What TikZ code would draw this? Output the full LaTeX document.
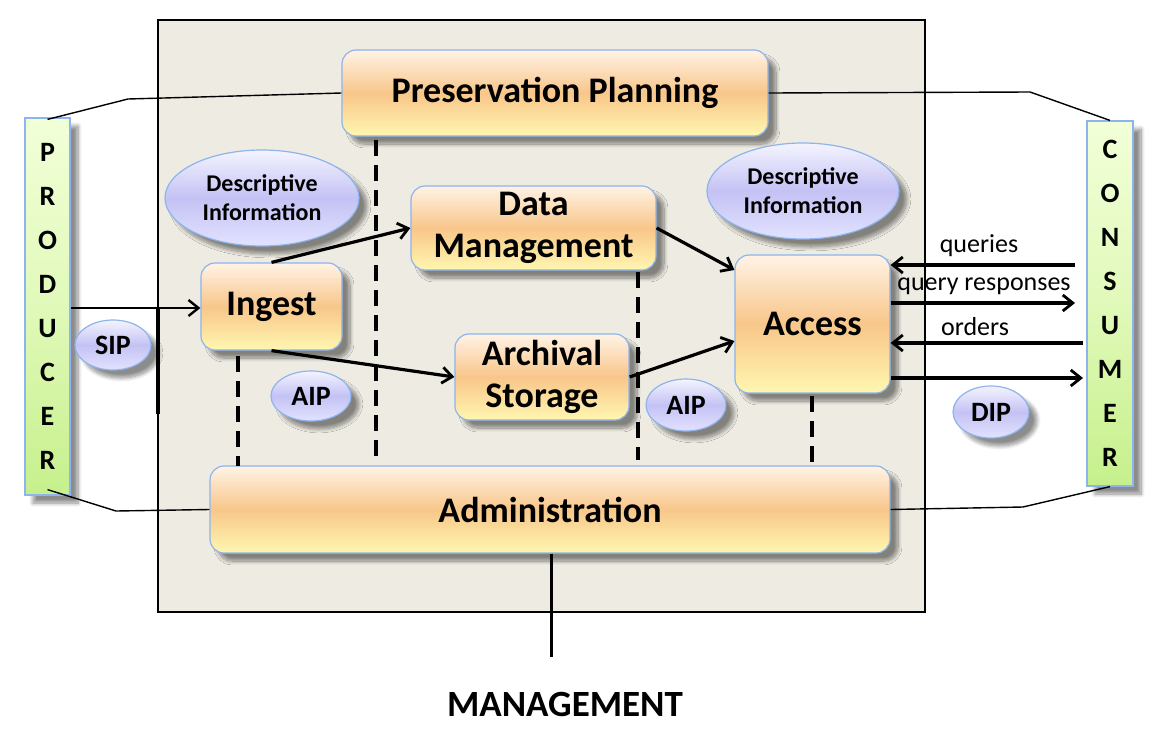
\documentclass[tikz,border=0pt]{standalone}
\usepackage{fontspec}
\setmainfont{Carlito}
\usetikzlibrary{shadows.blur,arrows.meta,shapes.geometric}
\definecolor{beige}{HTML}{EEEBE3}
\definecolor{orA}{HTML}{FFF3E6}
\definecolor{orB}{HTML}{F8C68A}
\definecolor{orC}{HTML}{FFF7B0}
\definecolor{bordblue}{HTML}{8DB4EC}
\definecolor{elA}{HTML}{F4F4FF}
\definecolor{elB}{HTML}{C4C2F4}
\definecolor{elC}{HTML}{E2E2FF}
\definecolor{grA}{HTML}{F2FFD8}
\definecolor{grB}{HTML}{C6F08C}
\tikzset{
  x=0.5pt,y=-0.5pt,
  shad/.style={blur shadow={shadow xshift=4pt,shadow yshift=-4pt,shadow blur steps=10,shadow opacity=45}},
  func/.style={shad,draw=bordblue,line width=0.6pt,rounded corners=7pt,
    top color=orA,bottom color=orC,middle color=orB,
    font=\bfseries\fontsize{18}{21}\selectfont,align=center,inner sep=0pt},
  info/.style={shad,ellipse,draw=bordblue,line width=0.6pt,
    top color=elA,bottom color=elC,middle color=elB,inner sep=0pt},
  pkg/.style={info,font=\bfseries\fontsize{14}{16}\selectfont},
  desc/.style={info,font=\bfseries\fontsize{12}{14.5}\selectfont,align=center},
  bar/.style={shad,draw=bordblue,line width=0.6pt,
    top color=grA,bottom color=grB,middle color=grA!60!grB,
    font=\bfseries\fontsize{14}{22}\selectfont,align=center,inner sep=0pt},
  link/.style={line width=0.7pt},
  flow/.style={line width=1.6pt,-{Straight Barb[length=5pt,width=8pt,line width=1.4pt]}},
  flowthin/.style={line width=1.2pt,-{Straight Barb[length=5pt,width=8pt,line width=1.2pt]}},
  sep/.style={line width=1.6pt,dash pattern=on 8pt off 4.5pt},
  lbl/.style={font=\fontsize{13}{15}\selectfont,inner sep=0pt}
}
\begin{document}
\begin{tikzpicture}
\useasboundingbox (0,0) rectangle (1157,745);
% main box
\draw[fill=beige,line width=1.2pt] (158,20) rectangle (925,612);
\draw[line width=2.2pt] (158,308) -- (158,414);
% bars
\node[bar,minimum width=22.5pt,minimum height=188.5pt] (prod) at (47.5,306.5)
  {P\\R\\O\\D\\U\\C\\E\\R};
\node[bar,minimum width=23pt,minimum height=182.5pt] (cons) at (1110,303.5)
  {C\\O\\N\\S\\U\\M\\E\\R};
% functional entities
\node[func,minimum width=213pt,minimum height=43pt] (pp) at (555,93) {Preservation Planning};
\node[func,minimum width=122.5pt,minimum height=42pt] (dm) at (533.5,228) {Data\\Management};
\node[func,minimum width=70.5pt,minimum height=43.5pt] (ing) at (271.5,306.5) {Ingest};
\node[func,minimum width=87pt,minimum height=43pt] (as) at (542,377) {Archival\\Storage};
\node[func,minimum width=77.5pt,minimum height=69pt] (acc) at (812.5,324) {Access};
\node[func,minimum width=340pt,minimum height=43.5pt] (adm) at (550,509.5) {Administration};
% info ellipses
\node[desc,minimum width=97pt,minimum height=48pt] (dl) at (262,198) {Descriptive\\Information};
\node[desc,minimum width=96pt,minimum height=48pt] (dr) at (803,191) {Descriptive\\Information};
\node[pkg,minimum width=38pt,minimum height=25pt] (sip) at (113,345) {SIP};
\node[pkg,minimum width=40pt,minimum height=25pt] (aipl) at (311,396) {AIP};
\node[pkg,minimum width=40pt,minimum height=26pt] (aipr) at (686,405) {AIP};
\node[pkg,minimum width=38pt,minimum height=26pt] (dip) at (991,412) {DIP};
% dashed separators
\draw[sep] (376,140) -- (376,460);
\draw[sep] (238,356) -- (238,466);
\draw[sep] (638,272) -- (638,460);
\draw[sep] (812,396) -- (812,466);
% link lines
\coordinate (b1) at (128,99);
\coordinate (b2) at (1030,92);
\coordinate (b3) at (116,511);
\coordinate (b4) at (1023,507);
\draw[link] ([yshift=-1pt]prod.north) -- (b1) -- (pp.west);
\draw[link] (pp.east) -- (b2) -- (cons.north);
\draw[link] ([yshift=3pt]prod.south) -- (b3) -- (adm.west);
\draw[link] (adm.east) -- (b4) -- (cons.south);
% flows
\draw[flowthin] (prod.east |- 0,308) -- (ing.west |- 0,308);
\draw[flow] (ing.north) -- (dm.west);
\draw[flow] (ing.south) -- (as.west);
\draw[flow] (dm.east) -- ([yshift=27pt]acc.west);
\draw[flow] (as.east) -- ([yshift=-8.5pt]acc.west);
% consumer side
\coordinate (q1) at (1075,265);
\coordinate (r1) at (1075,303);
\coordinate (o1) at (1083,343);
\coordinate (d1) at (1083,378);
\draw[flow] (q1) -- (acc.east |- q1);
\draw[flow] (acc.east |- r1) -- (r1);
\draw[flow] (o1) -- (acc.east |- o1);
\draw[flow] (acc.east |- d1) -- (d1);
\node[lbl] (lq) at (979,246) {queries};
\node[lbl] (lr) at (984,286) {query responses};
\node[lbl] (lo) at (975,327) {orders};
% management
\node[font=\bfseries\fontsize{18.5}{21}\selectfont,inner sep=0pt] (mg) at (565,704) {MANAGEMENT};
\coordinate (mend) at (551,657);
\draw[line width=1.5pt] (adm.south -| mend) -- (mend);
\end{tikzpicture}
\end{document}
